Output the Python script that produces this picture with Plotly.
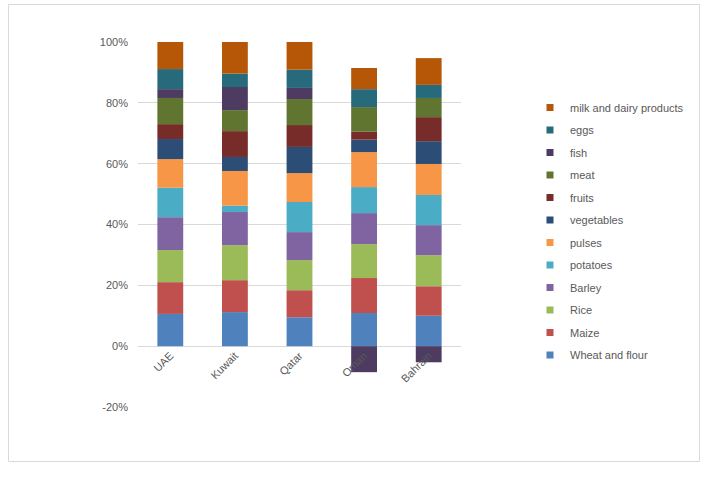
import plotly.graph_objects as go

countries = ["UAE", "Kuwait", "Qatar", "Oman", "Bahrain"]
wheat = [10.6, 11.2, 9.5, 10.9, 10.0]
maize = [10.45, 10.5, 8.9, 11.5, 9.7]
rice = [10.55, 11.5, 9.9, 11.15, 10.2]
barley = [10.8, 10.9, 9.2, 10.2, 9.9]
potatoes = [9.7, 2.1, 9.9, 8.55, 9.9]
pulses = [9.4, 11.4, 9.5, 11.5, 10.2]
vegetables = [6.6, 4.6, 8.6, 4.1, 7.5]
fruits = [4.9, 8.5, 7.2, 2.6, 7.9]
meat = [8.6, 6.9, 8.55, 8.1, 6.3]
fish = [2.9, 7.6, 3.65, -8.55, -5.3]
eggs = [6.6, 4.4, 6.0, 5.9, 4.3]
milk = [8.9, 10.4, 9.1, 6.95, 8.8]

y_ticks = [-20, 0, 20, 40, 60, 80, 100]
y_tick_labels = ["-20%", "0%", "20%", "40%", "60%", "80%", "100%"]

series = [
    ("Wheat and flour", wheat, "#4F81BD"),
    ("Maize", maize, "#C0504D"),
    ("Rice", rice, "#9BBB59"),
    ("Barley", barley, "#8064A2"),
    ("potatoes", potatoes, "#4BACC6"),
    ("pulses", pulses, "#F79646"),
    ("vegetables", vegetables, "#2C4D75"),
    ("fruits", fruits, "#772C2A"),
    ("meat", meat, "#5F7530"),
    ("fish", fish, "#4D3B62"),
    ("eggs", eggs, "#276A7C"),
    ("milk and dairy products", milk, "#B65708"),
]

W, H = 708, 482
L, R, T, B = 138, 461, 42, 407
TXT = "#595959"

fig = go.Figure()
for i, (name, vals, col) in enumerate(series):
    fig.add_trace(go.Bar(x=countries, y=vals, name=name, marker_color=col,
                         marker_line_width=0, showlegend=False))
# legend entries with small square keys
for i, (name, vals, col) in enumerate(series):
    fig.add_trace(go.Scatter(x=[None], y=[None], mode="markers", name=name,
                             marker=dict(symbol="square", size=7, color=col),
                             legendgroup=name, legendrank=1000 - i,
                             showlegend=True))

def px(xp):
    return (xp - L) / (R - L)

def py(yp):
    return (B - yp) / (B - T)

fig.update_layout(
    template="none",
    width=W, height=H,
    margin=dict(l=L, r=W - R, t=T, b=H - B, autoexpand=False),
    barmode="relative", bargap=0.6,
    paper_bgcolor="white", plot_bgcolor="white",
    font=dict(family="Liberation Sans, Arial, sans-serif", size=11, color=TXT),
    xaxis=dict(anchor="free", position=20 / 120, showline=False, ticks="",
               tickangle=-45, tickfont=dict(size=11, color=TXT),
               showgrid=False, zeroline=False),
    yaxis=dict(range=[-20, 100], tickvals=y_ticks, ticktext=y_tick_labels,
               showgrid=True, gridcolor="#D9D9D9", gridwidth=1, zeroline=False,
               showline=False, ticks="", ticklabelstandoff=9,
               tickfont=dict(size=11, color=TXT)),
    legend=dict(x=px(530), y=py(93), xanchor="left", yanchor="top",
                traceorder="grouped", tracegroupgap=3.5,
                font=dict(size=11, color=TXT), bgcolor="rgba(0,0,0,0)"),
    shapes=[dict(type="rect", xref="paper", yref="paper",
                 x0=px(8.5), x1=px(699.5), y0=py(461.5), y1=py(4.5),
                 line=dict(color="#D9D9D9", width=1), layer="below")],
    showlegend=True,
)

fig.write_html("out.html", config={"displayModeBar": False},
               post_script="document.body.style.margin='0';document.body.style.overflow='hidden';")
